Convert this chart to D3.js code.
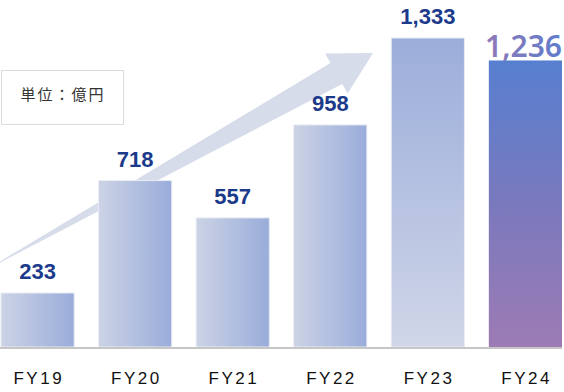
<!DOCTYPE html>
<html><head><meta charset="utf-8">
<script src="https://cdn.jsdelivr.net/npm/d3@7"></script>
<style>html,body{margin:0;padding:0;background:#fff;}svg{display:block;}</style>
</head><body>
<svg id="c" width="564" height="392"></svg>
<script>
const categories = ["FY19","FY20","FY21","FY22","FY23","FY24"];
const values = [233, 718, 557, 958, 1333, 1236];
const valueLabels = ["233","718","557","958","1,333","1,236"];
const unitLabel = "単位：億円";

const svg = d3.select("#c");
const W = 564, H = 392;
const baseY = 347;
const x = d3.scaleBand().domain(categories).range([1, 562]).paddingInner(0.25).paddingOuter(0);
const y = d3.scaleLinear().domain([0, 1333]).range([baseY, 38]);

const defs = svg.append("defs");
const gH = defs.append("linearGradient").attr("id","gH").attr("x1",0).attr("x2",1).attr("y1",0).attr("y2",0);
gH.append("stop").attr("offset","0%").attr("stop-color","#ccd3e5");
gH.append("stop").attr("offset","100%").attr("stop-color","#99acda");
const g23 = defs.append("linearGradient").attr("id","g23").attr("x1",0).attr("x2",0).attr("y1",0).attr("y2",1);
g23.append("stop").attr("offset","0%").attr("stop-color","#9badda");
g23.append("stop").attr("offset","100%").attr("stop-color","#d0d6e8");
const g24 = defs.append("linearGradient").attr("id","g24").attr("x1",0).attr("x2",0).attr("y1",0).attr("y2",1);
g24.append("stop").attr("offset","0%").attr("stop-color","#577fd0");
g24.append("stop").attr("offset","50%").attr("stop-color","#7a79bd");
g24.append("stop").attr("offset","100%").attr("stop-color","#9d7bb4");
const gT = defs.append("linearGradient").attr("id","gT").attr("x1",0).attr("x2",1).attr("y1",0).attr("y2",0);
gT.append("stop").attr("offset","0%").attr("stop-color","#9079b6");
gT.append("stop").attr("offset","100%").attr("stop-color","#607ccc");

// growth arrow (decoration behind bars)
const tail = [0, 262], tip = [373, 53];
const dx = tip[0]-tail[0], dy = tip[1]-tail[1];
const L = Math.hypot(dx, dy), ang = Math.atan2(dy, dx) * 180 / Math.PI;
const headLen = 42, shaftHalf = 12, headHalf = 23;
const arrowPts = [[0,-0.5],[L-headLen,-shaftHalf],[L-headLen,-headHalf],[L,0],[L-headLen,headHalf],[L-headLen,shaftHalf],[0,0.5]];
svg.append("polygon")
  .attr("points", arrowPts.map(p=>p.join(",")).join(" "))
  .attr("transform", `translate(${tail[0]},${tail[1]}) rotate(${ang})`)
  .attr("fill", "#d6dce9");

// unit box
svg.append("rect").attr("x",1.5).attr("y",70.5).attr("width",122).attr("height",54)
  .attr("fill","#fff").attr("stroke","#dcdcdc").attr("stroke-width",1);
svg.append("text").attr("x",63).attr("y",100).attr("text-anchor","middle")
  .attr("font-family","'Noto Sans CJK JP', sans-serif").attr("font-size",15)
  .attr("letter-spacing","2px").attr("fill","#333").text(unitLabel);

// bars
const fills = ["url(#gH)","url(#gH)","url(#gH)","url(#gH)","url(#g23)","url(#g24)"];
svg.selectAll("rect.bar").data(categories).join("rect").attr("class","bar")
  .attr("x", d=>x(d)).attr("width", x.bandwidth())
  .attr("y", (d,i)=>y(values[i])).attr("height", (d,i)=>baseY - y(values[i]))
  .attr("fill", (d,i)=>fills[i])
  .attr("stroke", (d,i)=> i===5 ? "none" : "#e9ecf3").attr("stroke-width", 1);

// baseline
svg.append("line").attr("x1",0).attr("x2",562).attr("y1",baseY+1).attr("y2",baseY+1)
  .attr("stroke","#c6c6c6").attr("stroke-width",2);

// value labels
svg.selectAll("text.val").data(categories.slice(0,5)).join("text").attr("class","val")
  .attr("x", d=>x(d)+x.bandwidth()/2).attr("y", (d,i)=>y(values[i]) - 14)
  .attr("text-anchor","middle").attr("font-family","'Liberation Sans', Arial, sans-serif")
  .attr("font-weight","bold").attr("font-size",22).attr("fill","#1b3a8b")
  .text((d,i)=>valueLabels[i]);
svg.append("text").attr("x", x("FY24")+x.bandwidth()).attr("y", 57)
  .attr("text-anchor","end").attr("font-family","'Noto Sans', sans-serif")
  .attr("font-weight","600").attr("font-size",30).attr("fill","url(#gT)")
  .text(valueLabels[5]);

// category labels
svg.selectAll("text.cat").data(categories).join("text").attr("class","cat")
  .attr("x", d=>x(d)+x.bandwidth()/2 + 1.2).attr("y", 384)
  .attr("text-anchor","middle").attr("font-family","'Liberation Sans', Arial, sans-serif")
  .attr("font-size",17).attr("letter-spacing","2.5px").attr("fill","#111")
  .text(d=>d);
</script>
</body></html>
